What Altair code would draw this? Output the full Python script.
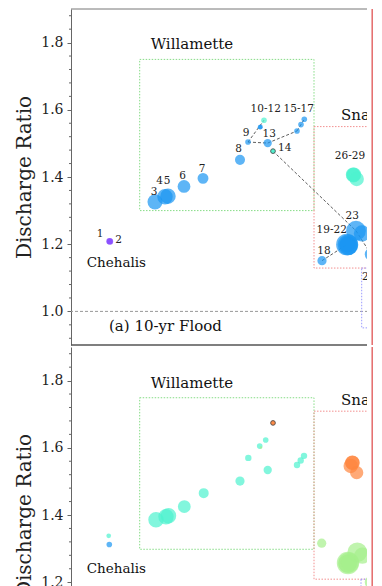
import altair as alt
import pandas as pd

FONT = "DejaVu Serif"

# ---------------- shared axis values ----------------
MAJOR_TICKS = [1.0, 1.2, 1.4, 1.6, 1.8]
MINOR_TICKS = [0.92, 0.96, 1.04, 1.08, 1.12, 1.16, 1.24, 1.28, 1.32, 1.36,
               1.44, 1.48, 1.52, 1.56, 1.64, 1.68, 1.72, 1.76, 1.84, 1.88]
CLASSES = ["c0", "c1", "c2", "c3", "c4"]
CLASS_COLORS = ["#8040ff", "#1a96f2", "#4df2ce", "#a5ef8c", "#ff863e"]
REGIONS = ["Willamette", "Snake", "Upper"]
REGION_COLORS = ["#86dc86", "#f29090", "#9a9aff"]

# ---------------- panel (a) 10-yr flood ----------------
A_ID = ["1", "2", "3", "4", "5", "6", "7", "8", "9", "10", "11", "12", "13", "14", "15",
        "16", "17", "18", "19", "20", "21", "22", "23", "24", "25", "26", "27", "28", "29"]
A_X = [38.5, 39, 84, 94, 97, 113, 132, 169, 177, 189, 189.5, 193, 196.7, 202, 226,
       230, 233.3, 251, 276, 277, 277.5, 276.5, 285, 291, 300, 282, 282.5, 283, 285.7]
A_Y = [1.209, 1.208, 1.326, 1.341, 1.343, 1.372, 1.396, 1.451, 1.504, 1.548, 1.549, 1.569, 1.501, 1.477, 1.537,
       1.556, 1.572, 1.151, 1.199, 1.198, 1.196, 1.200, 1.240, 1.232, 1.170, 1.407, 1.405, 1.407, 1.394]
A_AREA = [13, 13, 72, 76, 76, 52, 38, 32, 10, 7, 7, 10, 22, 7, 10,
          10, 10, 27, 150, 135, 105, 85, 125, 85, 50, 66, 66, 66, 66]
A_CLASS = ["c0", "c0", "c1", "c1", "c1", "c1", "c1", "c1", "c1", "c1", "c1", "c2", "c1", "c2", "c1",
           "c1", "c1", "c1", "c1", "c1", "c1", "c1", "c1", "c1", "c1", "c2", "c2", "c2", "c2"]
A_OUTLINED = ["14"]
A_EDGES = [("9", "12"), ("9", "13"), ("13", "15"), ("15", "17"), ("14", "23"), ("23", "25"), ("18", "19")]
A_LAB_TEXT = ["1", "2", "3", "4", "5", "6", "7", "8", "9", "10-12", "15-17", "13", "14", "26-29", "23", "19-22", "18"]
A_LAB_X = [29, 47.5, 83, 88.5, 96, 111.5, 131, 167.5, 175, 194.7, 227.7, 198.3, 213.7, 279, 281.3, 260.7, 253]
A_LAB_Y = [1.230, 1.212, 1.355, 1.388, 1.388, 1.404, 1.425, 1.482, 1.532, 1.601, 1.601, 1.529, 1.487, 1.462, 1.284, 1.243, 1.179]
A_LAB_LEFT_TEXT = ["25"]
A_LAB_LEFT_X = [291]
A_LAB_LEFT_Y = [1.101]
A_BOX_X = [68.7, 243, 290.7]
A_BOX_X2 = [243, 330, 340]
A_BOX_Y = [1.30, 1.129, 0.951]
A_BOX_Y2 = [1.75, 1.55, 1.129]
A_TITLE_TEXT = ["Willamette", "Snake", "(a) 10-yr Flood"]
A_TITLE_X = [79.7, 270, 38]
A_TITLE_Y = [1.796, 1.586, 0.957]
A_SMALL_TEXT = ["Chehalis"]
A_SMALL_X = [15.7]
A_SMALL_Y = [1.144]

# ---------------- panel (b) ----------------
B_ID = A_ID
B_X = [37.7, 38.3, 85, 95, 97.5, 113.3, 132.7, 169, 177.3, 188.7, 190, 194.7, 196.7, 202, 226,
       229.7, 233, 250.7, 277, 277.5, 276.5, 278, 286.3, 291.3, 300, 281.3, 279.7, 281.5, 285.7]
B_Y = [1.338, 1.312, 1.386, 1.395, 1.398, 1.425, 1.465, 1.501, 1.570, 1.605, 1.601, 1.623, 1.534, 1.674, 1.549,
       1.562, 1.576, 1.316, 1.257, 1.258, 1.255, 1.259, 1.289, 1.279, 1.200, 1.556, 1.546, 1.555, 1.526]
B_AREA = [7, 10, 76, 76, 76, 52, 32, 27, 13, 10, 2, 10, 22, 7, 13,
          13, 13, 27, 160, 135, 105, 85, 125, 85, 50, 66, 66, 66, 56]
B_CLASS = ["c2", "c1", "c2", "c2", "c2", "c2", "c2", "c2", "c2", "c2", "c3", "c2", "c2", "c4", "c2",
           "c2", "c2", "c3", "c3", "c3", "c3", "c3", "c3", "c3", "c3", "c4", "c4", "c4", "c4"]
B_OUTLINED = ["14"]
B_BOX_X = [68.7, 243, 290]
B_BOX_X2 = [243, 330, 340]
B_BOX_Y = [1.298, 1.209, 0.90]
B_BOX_Y2 = [1.749, 1.709, 1.209]
B_TITLE_TEXT = ["Willamette", "Snake"]
B_TITLE_X = [79.7, 270]
B_TITLE_Y = [1.794, 1.742]
B_SMALL_TEXT = ["Chehalis"]
B_SMALL_X = [15.7]
B_SMALL_Y = [1.239]

W, H = 302, 336
CUT = 296
xs = alt.Scale(domain=[0, W], nice=False, zero=False)
ys = alt.Scale(domain=[0.9, 1.9], nice=False, zero=False)
yaxis = alt.Axis(values=MAJOR_TICKS, format=".1f", tickSize=4, labelPadding=4,
                 title="Discharge Ratio", titlePadding=6, grid=False)


def X(f):
    return alt.X(f, type="quantitative", scale=xs, axis=None)


def Y(f):
    return alt.Y(f, type="quantitative", scale=ys, axis=yaxis)


def one():
    return alt.Chart(pd.DataFrame({"a": [0]}))


def panel(ids, xv, yv, area, cls, outlined, edges, lab, lab_left, boxes, titles, small, top_line):
    pts = pd.DataFrame({"id": ids, "x": xv, "y": yv, "area": area, "cls": cls})
    out = pts[pts["id"].isin(outlined)]
    size = alt.Size("area:Q", scale=alt.Scale(domain=[0, 100], range=[0, 314]), legend=None)
    color = alt.Color("cls:N", scale=alt.Scale(domain=CLASSES, range=CLASS_COLORS), legend=None)

    layers = []
    layers.append(alt.Chart(pd.DataFrame({"y": [1.0]})).mark_rule(
        color="#999", strokeDash=[3, 2], strokeWidth=1, clip=True).encode(y=Y("y")))
    bx = pd.DataFrame({"region": REGIONS, "x": boxes[0], "x2": boxes[1], "y": boxes[2], "y2": boxes[3]})
    layers.append(alt.Chart(bx).mark_rect(fillOpacity=0, strokeWidth=1, strokeDash=[1.5, 1.5], clip=True).encode(
        x=X("x"), x2=alt.X2("x2"), y=Y("y"), y2=alt.Y2("y2"),
        stroke=alt.Stroke("region:N", scale=alt.Scale(domain=REGIONS, range=REGION_COLORS), legend=None)))
    if edges:
        pos = pts.set_index("id")
        ed = pd.DataFrame({
            "x": [pos.loc[a, "x"] for a, b in edges], "y": [pos.loc[a, "y"] for a, b in edges],
            "x2": [pos.loc[b, "x"] for a, b in edges], "y2": [pos.loc[b, "y"] for a, b in edges]})
        layers.append(alt.Chart(ed).mark_rule(color="#333", strokeWidth=0.8, strokeDash=[3, 2], clip=True).encode(
            x=X("x"), x2=alt.X2("x2"), y=Y("y"), y2=alt.Y2("y2")))
    layers.append(alt.Chart(pts).mark_circle(opacity=0.7, clip=True).encode(
        x=X("x"), y=Y("y"), size=size, color=color))
    layers.append(alt.Chart(out).mark_circle(opacity=0.85, stroke="#444", strokeWidth=1, clip=True).encode(
        x=X("x"), y=Y("y"), size=size, color=color))
    if lab:
        ld = pd.DataFrame({"t": lab[0], "x": lab[1], "y": lab[2]})
        layers.append(alt.Chart(ld).mark_text(font=FONT, fontSize=10.5, color="#222", clip=True).encode(
            x=X("x"), y=Y("y"), text="t:N"))
    if lab_left:
        ld2 = pd.DataFrame({"t": lab_left[0], "x": lab_left[1], "y": lab_left[2]})
        layers.append(alt.Chart(ld2).mark_text(font=FONT, fontSize=10.5, color="#222", align="left",
                                               clip=True).encode(x=X("x"), y=Y("y"), text="t:N"))
    td = pd.DataFrame({"t": titles[0], "x": titles[1], "y": titles[2]})
    layers.append(alt.Chart(td).mark_text(font=FONT, fontSize=15, color="#111", align="left", clip=True).encode(
        x=X("x"), y=Y("y"), text="t:N"))
    sd = pd.DataFrame({"t": small[0], "x": small[1], "y": small[2]})
    layers.append(alt.Chart(sd).mark_text(font=FONT, fontSize=13.5, color="#111", align="left", clip=True).encode(
        x=X("x"), y=Y("y"), text="t:N"))
    layers.append(alt.Chart(pd.DataFrame({"t": MINOR_TICKS})).mark_rule(color="#666", strokeWidth=1).encode(
        y=Y("t"), x=alt.value(-2), x2=alt.value(0)))
    # white strip hiding the cut edge, then the frame lines and the red highlight edge
    layers.append(one().mark_rect(fill="white", strokeWidth=0).encode(
        x=alt.X(datum=CUT, scale=xs, axis=None), x2=alt.X2(datum=W), y=alt.value(0), y2=alt.value(H)))
    if top_line:
        layers.append(one().mark_rule(color="#777", strokeWidth=1).encode(
            x=alt.value(0), x2=alt.value(CUT), y=alt.value(0)))
    layers.append(one().mark_rule(color="#555", strokeWidth=1.3).encode(
        x=alt.value(0), x2=alt.value(CUT), y=alt.value(H)))
    layers.append(one().mark_rule(color="#e46a6a", strokeWidth=1.5).encode(
        x=alt.X(datum=W - 0.8, scale=xs, axis=None), y=alt.value(0), y2=alt.value(H)))
    return alt.layer(*layers).properties(width=W, height=H)


top = panel(A_ID, A_X, A_Y, A_AREA, A_CLASS, A_OUTLINED, A_EDGES,
            (A_LAB_TEXT, A_LAB_X, A_LAB_Y), (A_LAB_LEFT_TEXT, A_LAB_LEFT_X, A_LAB_LEFT_Y),
            (A_BOX_X, A_BOX_X2, A_BOX_Y, A_BOX_Y2), (A_TITLE_TEXT, A_TITLE_X, A_TITLE_Y),
            (A_SMALL_TEXT, A_SMALL_X, A_SMALL_Y), True)
bottom = panel(B_ID, B_X, B_Y, B_AREA, B_CLASS, B_OUTLINED, None, None, None,
               (B_BOX_X, B_BOX_X2, B_BOX_Y, B_BOX_Y2), (B_TITLE_TEXT, B_TITLE_X, B_TITLE_Y),
               (B_SMALL_TEXT, B_SMALL_X, B_SMALL_Y), False)

chart = alt.vconcat(top, bottom, spacing=0).properties(
    padding={"left": 6, "top": 0, "right": 0, "bottom": 0}
).configure_axis(
    labelFont=FONT, titleFont=FONT, labelFontSize=14, titleFontSize=20, titleFontWeight="normal",
    labelColor="#222", titleColor="#222", domainColor="#666", tickColor="#666"
).configure_view(stroke=None).configure_concat(spacing=0)

chart.save("out.html", embed_options={"renderer": "svg", "actions": False})
